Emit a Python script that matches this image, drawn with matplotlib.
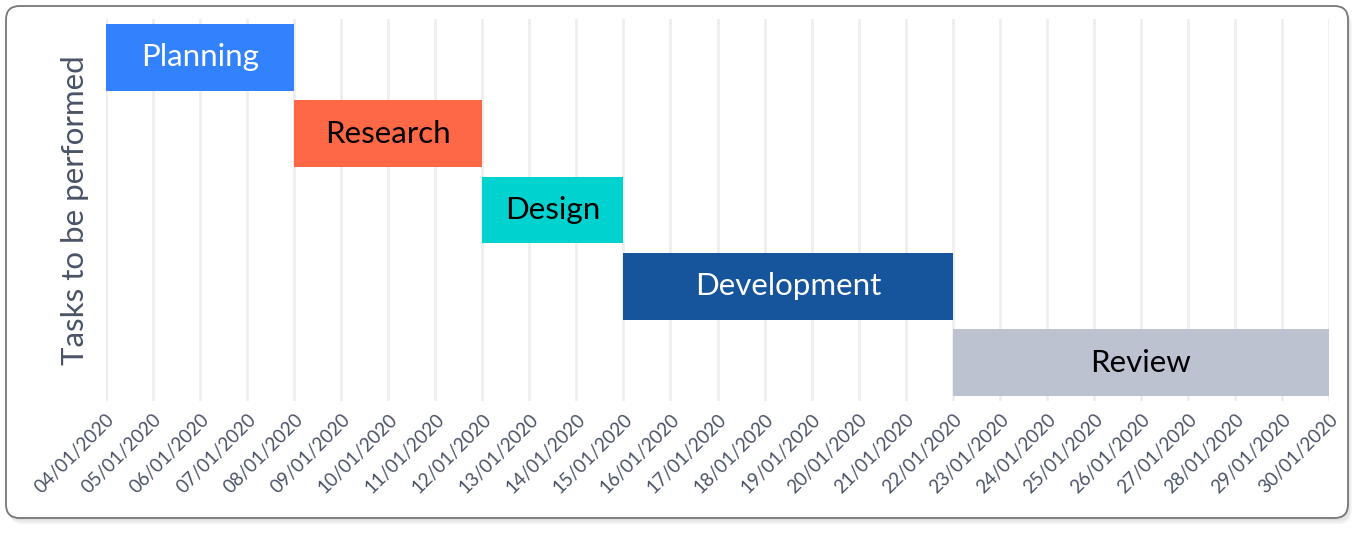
import matplotlib
matplotlib.use("Agg")
import matplotlib.pyplot as plt
import matplotlib.dates as mdates
from matplotlib.patches import FancyBboxPatch
import datetime as dt

tasks = ["Planning", "Research", "Design", "Development", "Review"]
starts = ["2020-01-04", "2020-01-08", "2020-01-12", "2020-01-15", "2020-01-22"]
ends = ["2020-01-08", "2020-01-12", "2020-01-15", "2020-01-22", "2020-01-30"]
colors = ["#3382fd", "#fe6847", "#00d3cf", "#16559b", "#bcc2d0"]
text_colors = ["white", "black", "black", "white", "black"]
y_label = "Tasks to be performed"
tick_start = "2020-01-04"
tick_end = "2020-01-30"

plt.rcParams['font.family'] = ['Lato', 'DejaVu Sans']

fig = plt.figure(figsize=(13.64, 5.34), dpi=100)

# frame with soft shadow
for k, (off, col) in enumerate([(6, "#f2f2f2"), (4, "#e8e8e8"), (2, "#dedede")]):
    sh = FancyBboxPatch(((6 + off * 0.6) / 1364, (16 - off) / 534), 1342 / 1364, 512 / 534,
                        boxstyle="round,pad=0,rounding_size=0.01",
                        transform=fig.transFigure, facecolor=col,
                        edgecolor="none", zorder=-3 + k * 0.1,
                        mutation_aspect=1364 / 534)
    fig.patches.append(sh)
frame = FancyBboxPatch((6 / 1364, 16 / 534), 1342 / 1364, 512 / 534,
                       boxstyle="round,pad=0,rounding_size=0.01",
                       transform=fig.transFigure, facecolor="white",
                       edgecolor="#777777", linewidth=1.3, zorder=-1,
                       mutation_aspect=1364 / 534)
fig.patches.append(frame)

ax = fig.add_axes([106 / 1364, (534 - 401) / 534, (1329 - 106) / 1364, 382 / 534])
ax.set_facecolor("none")

s_num = [mdates.date2num(dt.datetime.fromisoformat(s)) for s in starts]
e_num = [mdates.date2num(dt.datetime.fromisoformat(e)) for e in ends]

for i, (t, s, e, c, tc) in enumerate(zip(tasks, s_num, e_num, colors, text_colors)):
    ax.barh(i, e - s, left=s, height=0.875, color=c, zorder=3)
    ax.text((s + e) / 2, i, t, ha="center", va="center", color=tc,
            fontsize=22.5, zorder=4)

ax.set_ylim(len(tasks) - 0.5, -0.5)
t0 = mdates.date2num(dt.datetime.fromisoformat(tick_start))
t1 = mdates.date2num(dt.datetime.fromisoformat(tick_end))
ax.set_xlim(t0, t1)
ax.xaxis.set_major_locator(mdates.DayLocator())
ax.xaxis.set_major_formatter(mdates.DateFormatter("%d/%m/%Y"))
for lab in ax.get_xticklabels():
    lab.set_rotation(45)
    lab.set_ha("right")
    lab.set_rotation_mode("anchor")
ax.tick_params(axis="x", length=0, pad=7, labelsize=13.5, labelcolor="#4a5366")
ax.set_yticks([])
ax.grid(axis="x", color="#eeeeee", linewidth=2, zorder=0)
for sp in ax.spines.values():
    sp.set_visible(False)
ax.set_ylabel(y_label, fontsize=22.5, color="#4a5366", labelpad=12)

fig.savefig("out.png", dpi=100)
